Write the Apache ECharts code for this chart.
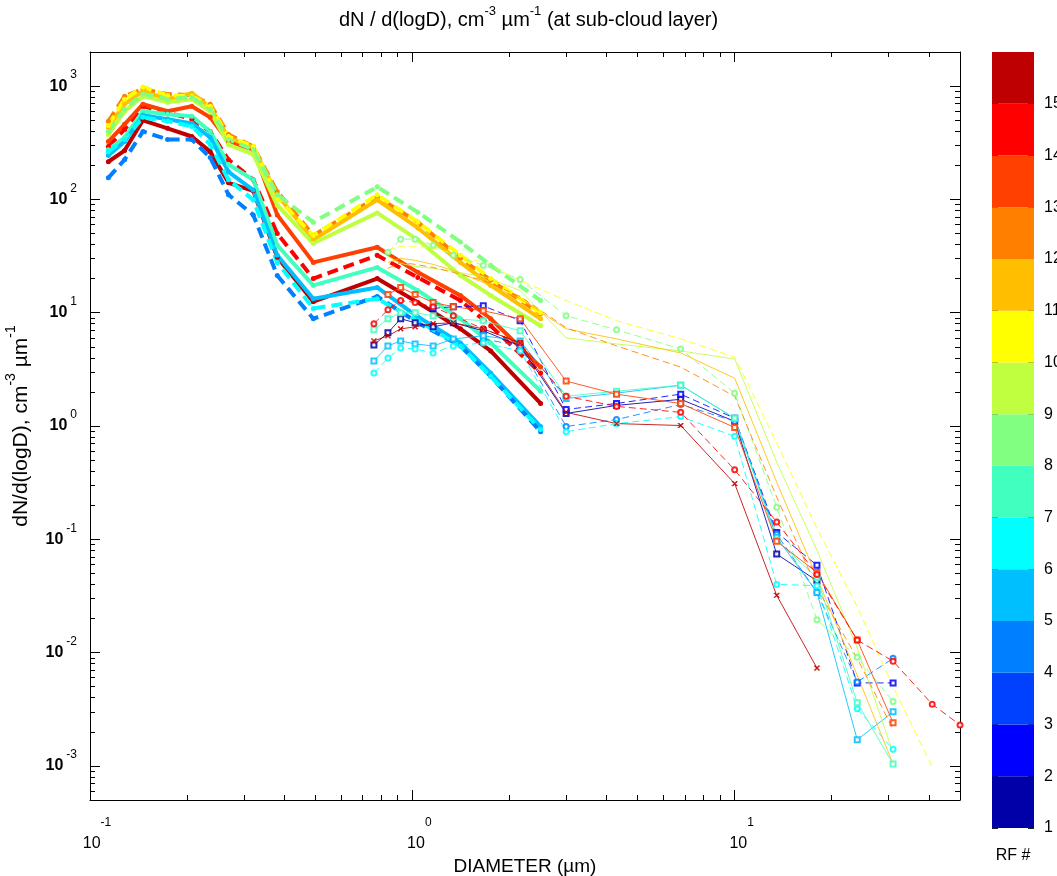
<!DOCTYPE html>
<html>
<head>
<meta charset="utf-8">
<title>dN/d(logD) at sub-cloud layer</title>
<script src="https://cdn.jsdelivr.net/npm/echarts@6/dist/echarts.min.js"></script>
<style>
  html, body { margin: 0; padding: 0; background: #ffffff; }
  #chart { width: 1057px; height: 876px; }
</style>
</head>
<body>
<div id="chart"></div>
<script>
// Bin diameters (µm) of the aerosol spectrometer (thick curves)
const pcaspDiameters = [0.114, 0.128, 0.146, 0.174, 0.207, 0.236, 0.269, 0.321, 0.381, 0.493, 0.778, 1.04, 1.41, 1.75, 2.5];
// Bin diameters (µm) of the cloud probe (thin curves with markers)
const probeDiameters = [0.76, 0.84, 0.92, 1.02, 1.16, 1.34, 1.66, 2.16, 3.0, 4.3, 6.8, 10, 13.5, 18, 24, 31, 41, 50];

// dN/d(logD), cm^-3 µm^-1, aerosol spectrometer, per research flight
const pcaspRF4  = [155, 224, 398, 338, 338, 234, 110, 73, 21.3, 8.85, 13.9, 8.15, 5.09, 2.75, 0.89];
const pcaspRF5  = [244, 324, 553, 509, 469, 352, 175, 121, 32.1, 13.3, 16.7, 9.2, 5.41, 2.93, 0.99];
const pcaspRF6  = [264, 338, 530, 489, 441, 305, 149, 99, 27.8, 10.9, 13.3, 8.5, 5.09, 2.75, 0.93];
const pcaspRF7  = [275, 352, 600, 564, 541, 398, 203, 149, 39.4, 17.4, 25.1, 15.7, 8.85, 5.41, 2.03];
const pcaspRF8  = [398, 625, 849, 766, 798, 625, 338, 275, 110, 63, 129, 77, 42, 26.2, 12.8];
const pcaspRF9  = [374, 600, 815, 721, 766, 600, 305, 249, 89, 41, 76, 44, 21.3, 14.2, 7.66];
const pcaspRF10 = [450, 766, 980, 832, 815, 664, 359, 293, 103, 48, 110, 63, 32.1, 20, 10];
const pcaspRF11 = [432, 692, 903, 766, 867, 651, 352, 287, 110, 44, 99, 56, 27.8, 17.4, 8.85];
const pcaspRF12 = [489, 815, 940, 849, 832, 692, 374, 293, 117, 48, 105, 63, 30.2, 19.3, 9.8];
const pcaspRF13 = [324, 460, 692, 600, 664, 530, 324, 275, 73, 27.8, 37.8, 22.7, 14.2, 8.85, 3.31];
const pcaspRF14 = [293, 415, 664, 588, 509, 398, 224, 149, 50, 20, 32.1, 20.5, 12.8, 7.66, 2.93];
const pcaspRF15 = [215, 270, 499, 424, 359, 264, 140, 119, 30.8, 12.5, 20, 12.3, 7.2, 4.6, 1.58];

// dN/d(logD), cm^-3 µm^-1, cloud probe, per research flight (null = no data)
const probeRF1  = [5.2, 6.64, 8.85, 8.15, 7.5, 8.15, 6.92, 5.09, 1.29, 1.52, 1.72, 1.10, 0.074, 0.043, null, null, null, null];
const probeRF2  = [null, null, null, null, 10.9, 11.3, 11.5, 8.5, 1.40, 1.58, 1.91, 1.17, 0.115, 0.059, 0.0054, 0.0054, null, null];
const probeRF4  = [null, null, null, null, null, null, 5.87, 5.09, 0.99, 1.14, 1.55, 1.10, 0.111, 0.034, 0.0055, 0.0089, null, null];
const probeRF5  = [3.74, 5.09, 5.64, 5.3, 5.09, 5.87, 6.25, 5.64, 1.75, 1.95, 2.29, 1.17, 0.104, 0.034, 0.0017, 0.0030, null, null];
const probeRF6  = [2.93, 3.98, 4.89, 4.79, 4.41, 5.09, 5.41, 4.6, 0.89, 1.05, 1.21, 0.81, 0.040, 0.039, 0.0032, 0.0014, null, null];
const probeRF7  = [7.06, 8.85, 10, 10, 9.4, 8.85, 8.5, 6.92, 1.83, 2.03, 2.29, 1.17, 0.098, 0.046, 0.0036, 0.00104, null, null];
const probeRF8  = [null, 34.1, 44.6, 44.6, 39.4, 32.1, 26.2, 19.6, 9.4, 7.06, 4.79, 1.95, 0.192, 0.0195, 0.0091, 0.0037, null, null];
const probeRF9  = [null, 31.5, 27.3, 25.6, 24.6, 23.1, 20.9, 15.7, 6.0, 5.3, 4.6, 3.9, 0.48, 0.080, 0.011, 0.0013, null, null];
const probeRF10 = [null, 35.6, 38.6, 38.6, 37.1, 33.4, 27.8, 19.3, 12.8, 8.5, 5.87, 4.06, 0.71, 0.125, 0.0254, 0.0050, 0.00098, null];
const probeRF11 = [null, 27.8, 30.2, 29.0, 26.7, 23.6, 18.5, 13.3, 7.2, 5.87, 4.41, 2.64, 0.32, 0.046, 0.0063, 0.00104, null, null];
const probeRF12 = [null, 24.6, 27.8, 26.7, 25.1, 22.7, 19.3, 13.9, 7.36, 5.09, 3.31, 1.83, 0.236, 0.037, 0.0089, 0.0021, null, null];
const probeRF13 = [null, 14.5, 16.7, 14.5, 12.3, 11.3, 10.4, 8.85, 2.49, 1.91, 1.58, 0.97, 0.096, 0.051, 0.0129, 0.0024, null, null];
const probeRF14 = [8.0, 10.6, 12.8, 12.3, 11.3, 9.4, 7.2, 5.41, 1.83, 1.49, 1.32, 0.41, 0.142, 0.049, 0.0129, 0.0084, 0.0035, 0.0023];
const probeRF15 = [5.64, 6.25, 7.2, 7.5, 8.0, 8.15, 7.2, 5.41, 1.32, 1.05, 1.01, 0.31, 0.032, 0.0073, null, null, null, null];

// Research flight numbers and their colour-bar colours (RF 1 .. RF 15)
const flightNumbers = [1, 2, 3, 4, 5, 6, 7, 8, 9, 10, 11, 12, 13, 14, 15];
const flightColors = ['#0000a8', '#0000ff', '#0040ff', '#0080ff', '#00bfff', '#00ffff', '#40ffbf', '#80ff80',
                      '#bfff40', '#ffff00', '#ffbf00', '#ff8000', '#ff4000', '#ff0000', '#bf0000'];

// Axis ticks
const xMajorTicks = [0.1, 1, 10];
const xMinorTicks = [0.2, 0.3, 0.4, 0.5, 0.6, 0.7, 0.8, 0.9, 2, 3, 4, 5, 6, 7, 8, 9, 20, 30, 40];
const yMajorTicks = [0.001, 0.01, 0.1, 1, 10, 100, 1000];
const yMinorTicks = [0.0006, 0.0007, 0.0008, 0.0009,
                     0.002, 0.003, 0.004, 0.005, 0.006, 0.007, 0.008, 0.009,
                     0.02, 0.03, 0.04, 0.05, 0.06, 0.07, 0.08, 0.09,
                     0.2, 0.3, 0.4, 0.5, 0.6, 0.7, 0.8, 0.9,
                     2, 3, 4, 5, 6, 7, 8, 9,
                     20, 30, 40, 50, 60, 70, 80, 90,
                     200, 300, 400, 500, 600, 700, 800, 900];
const xRange = [0.1, 50];
const yRange = [0.0005, 2000];

const pcaspByFlight = {4: pcaspRF4, 5: pcaspRF5, 6: pcaspRF6, 7: pcaspRF7, 8: pcaspRF8, 9: pcaspRF9,
                       10: pcaspRF10, 11: pcaspRF11, 12: pcaspRF12, 13: pcaspRF13, 14: pcaspRF14, 15: pcaspRF15};
const probeByFlight = {1: probeRF1, 2: probeRF2, 4: probeRF4, 5: probeRF5, 6: probeRF6, 7: probeRF7, 8: probeRF8,
                       9: probeRF9, 10: probeRF10, 11: probeRF11, 12: probeRF12, 13: probeRF13, 14: probeRF14, 15: probeRF15};

// drawing order of the thick curves (last one on top)
const pcaspOrder = [15, 14, 13, 12, 11, 10, 9, 8, 7, 5, 4, 6];

const crossSymbol = 'path://M0,1L1,0L5,4L9,0L10,1L6,5L10,9L9,10L5,6L1,10L0,9L4,5Z';
const probeSymbols = {1: 'emptyRect', 2: 'emptyRect', 4: 'emptyCircle', 5: 'emptyRect', 6: 'emptyCircle',
                      7: 'emptyRect', 8: 'emptyCircle', 9: 'none', 10: 'none', 11: 'none', 12: 'none',
                      13: 'emptyRect', 14: 'emptyCircle', 15: crossSymbol};

function pairs(xs, ys) {
  const out = [];
  ys.forEach(function (v, i) { if (v !== null) out.push([xs[i], v]); });
  return out;
}

const FONT = "'Liberation Sans', Arial, Helvetica, sans-serif";
const series = [];

// odd flights are solid, even flights dashed
pcaspOrder.forEach(function (rf) {
  const c = flightColors[rf - 1];
  series.push({
    name: 'RF' + rf + ' aerosol',
    type: 'line',
    xAxisIndex: 0, yAxisIndex: 0,
    data: pairs(pcaspDiameters, pcaspByFlight[rf]),
    symbol: 'circle', symbolSize: 5,
    itemStyle: { color: c },
    lineStyle: { color: c, width: 4, type: rf % 2 === 0 ? [11, 6] : 'solid', cap: 'butt', join: 'round' },
    silent: true, animation: false
  });
});

Object.keys(probeByFlight).map(Number).sort(function (a, b) { return a - b; }).forEach(function (rf) {
  const c = flightColors[rf - 1];
  const sym = probeSymbols[rf];
  series.push({
    name: 'RF' + rf + ' probe',
    type: 'line',
    xAxisIndex: 0, yAxisIndex: 0,
    data: pairs(probeDiameters, probeByFlight[rf]),
    connectNulls: true,
    symbol: sym, symbolSize: 5,
    itemStyle: { color: c, borderColor: c, borderWidth: 1, opacity: 0.85 },
    lineStyle: { color: c, width: 1, type: rf % 2 === 0 ? [7, 4] : 'solid', opacity: 0.85 },
    silent: true, animation: false
  });
});

// colour bar: one stacked block per flight
flightNumbers.forEach(function (rf) {
  series.push({
    name: 'bar RF' + rf,
    type: 'bar',
    xAxisIndex: 4, yAxisIndex: 4,
    stack: 'colorbar',
    data: [1],
    barWidth: '100%',
    itemStyle: { color: flightColors[rf - 1] },
    silent: true, animation: false
  });
});

// "10" with a raised exponent; the tall base line height lifts the exponent
const supX = {
  b: { fontSize: 16, fontFamily: FONT, fontWeight: 'normal', color: '#000', lineHeight: 54, padding: [0, 0, 0, 14] },
  e: { fontSize: 12, fontFamily: FONT, fontWeight: 'normal', color: '#000', lineHeight: 12, verticalAlign: 'top' }
};
const supY = {
  b: { fontSize: 16, fontWeight: 'bold', fontFamily: FONT, color: '#000', lineHeight: 34 },
  e: { fontSize: 12, fontFamily: FONT, fontWeight: 'normal', color: '#000', lineHeight: 12, verticalAlign: 'top', padding: [0, 0, 0, 3] }
};
function powerLabel(v) {
  return '{b|10}{e|' + Math.round(Math.log10(v)) + '}';
}

function xAxisDef(position, ticks, len, withLabels, withLine) {
  return {
    type: 'log', logBase: 10, gridIndex: 0, position: position,
    min: xRange[0], max: xRange[1],
    axisLine: { show: withLine, lineStyle: { color: '#000', width: 1 } },
    axisTick: { show: true, inside: true, length: len, customValues: ticks, lineStyle: { color: '#000', width: 1 } },
    axisLabel: withLabels ? { show: true, customValues: xMajorTicks, margin: 17, formatter: powerLabel, rich: supX }
                          : { show: false },
    splitLine: { show: false }, minorTick: { show: false }, minorSplitLine: { show: false }
  };
}
function yAxisDef(position, ticks, len, withLabels, withLine) {
  return {
    type: 'log', logBase: 10, gridIndex: 0, position: position,
    min: yRange[0], max: yRange[1],
    axisLine: { show: withLine, lineStyle: { color: '#000', width: 1 } },
    axisTick: { show: true, inside: true, length: len, customValues: ticks, lineStyle: { color: '#000', width: 1 } },
    axisLabel: withLabels ? { show: true, customValues: yMajorTicks, margin: 13, formatter: powerLabel, rich: supY }
                          : { show: false },
    splitLine: { show: false }, minorTick: { show: false }, minorSplitLine: { show: false }
  };
}

const xAxes = [
  xAxisDef('bottom', xMajorTicks, 10, true, true),
  xAxisDef('bottom', xMinorTicks, 5, false, false),
  xAxisDef('top', xMajorTicks, 10, false, true),
  xAxisDef('top', xMinorTicks, 5, false, false),
  {
    type: 'category', gridIndex: 1, data: ['RF'],
    axisLine: { show: false }, axisTick: { show: false }, axisLabel: { show: false },
    name: 'RF #', nameLocation: 'middle', nameGap: 20,
    nameTextStyle: { fontSize: 16, fontFamily: FONT, color: '#000' }
  }
];
xAxes[0].name = 'DIAMETER (µm)';
xAxes[0].nameLocation = 'middle';
xAxes[0].nameGap = 48;
xAxes[0].nameTextStyle = { fontSize: 19, fontFamily: FONT, color: '#000' };

const yAxes = [
  yAxisDef('left', yMajorTicks, 10, true, true),
  yAxisDef('left', yMinorTicks, 5, false, false),
  yAxisDef('right', yMajorTicks, 10, false, true),
  yAxisDef('right', yMinorTicks, 5, false, false),
  {
    type: 'value', gridIndex: 1, position: 'right', min: 0, max: 15, interval: 1,
    axisLine: { show: false },
    axisTick: { show: true, inside: true, length: 6, lineStyle: { color: '#222', width: 1 } },
    axisLabel: {
      show: true, margin: 10, fontSize: 16, fontFamily: FONT, color: '#000',
      formatter: function (v) { return v < flightNumbers.length ? String(flightNumbers[v]) : ''; }
    },
    splitLine: { show: false }
  },
  {
    type: 'value', gridIndex: 1, position: 'left', min: 0, max: 15, interval: 1,
    axisLine: { show: false },
    axisTick: { show: true, inside: true, length: 6, lineStyle: { color: '#222', width: 1 } },
    axisLabel: { show: false },
    splitLine: { show: false }
  }
];
yAxes[0].name = '{a|dN/d(logD), cm}{s|-3}{a| µm}{s|-1}';
yAxes[0].nameLocation = 'middle';
yAxes[0].nameGap = 52;
yAxes[0].nameTextStyle = {
  rich: {
    a: { fontSize: 21, fontFamily: FONT, color: '#000', lineHeight: 34 },
    s: { fontSize: 14, fontFamily: FONT, color: '#000', lineHeight: 14, verticalAlign: 'top' }
  }
};

const option = {
  backgroundColor: '#ffffff',
  animation: false,
  title: {
    text: '{a|dN / d(logD), cm}{s|-3}{a| µm}{s|-1}{a| (at sub-cloud layer)}',
    left: 'center', top: 0,
    textStyle: {
      fontWeight: 'normal',
      rich: {
        a: { fontSize: 20, fontFamily: FONT, fontWeight: 'normal', color: '#000', lineHeight: 30 },
        s: { fontSize: 13, fontFamily: FONT, fontWeight: 'normal', color: '#000', lineHeight: 13, verticalAlign: 'top' }
      }
    }
  },
  grid: [
    { left: 90, right: 97, top: 52, bottom: 76, containLabel: false, outerBoundsMode: 'none' },
    { left: 992, right: 23, top: 52, bottom: 48, containLabel: false, outerBoundsMode: 'none' }
  ],
  xAxis: xAxes,
  yAxis: yAxes,
  series: series
};

const chart = echarts.init(document.getElementById('chart'), null, { renderer: 'canvas' });
chart.setOption(option);
</script>
</body>
</html>
